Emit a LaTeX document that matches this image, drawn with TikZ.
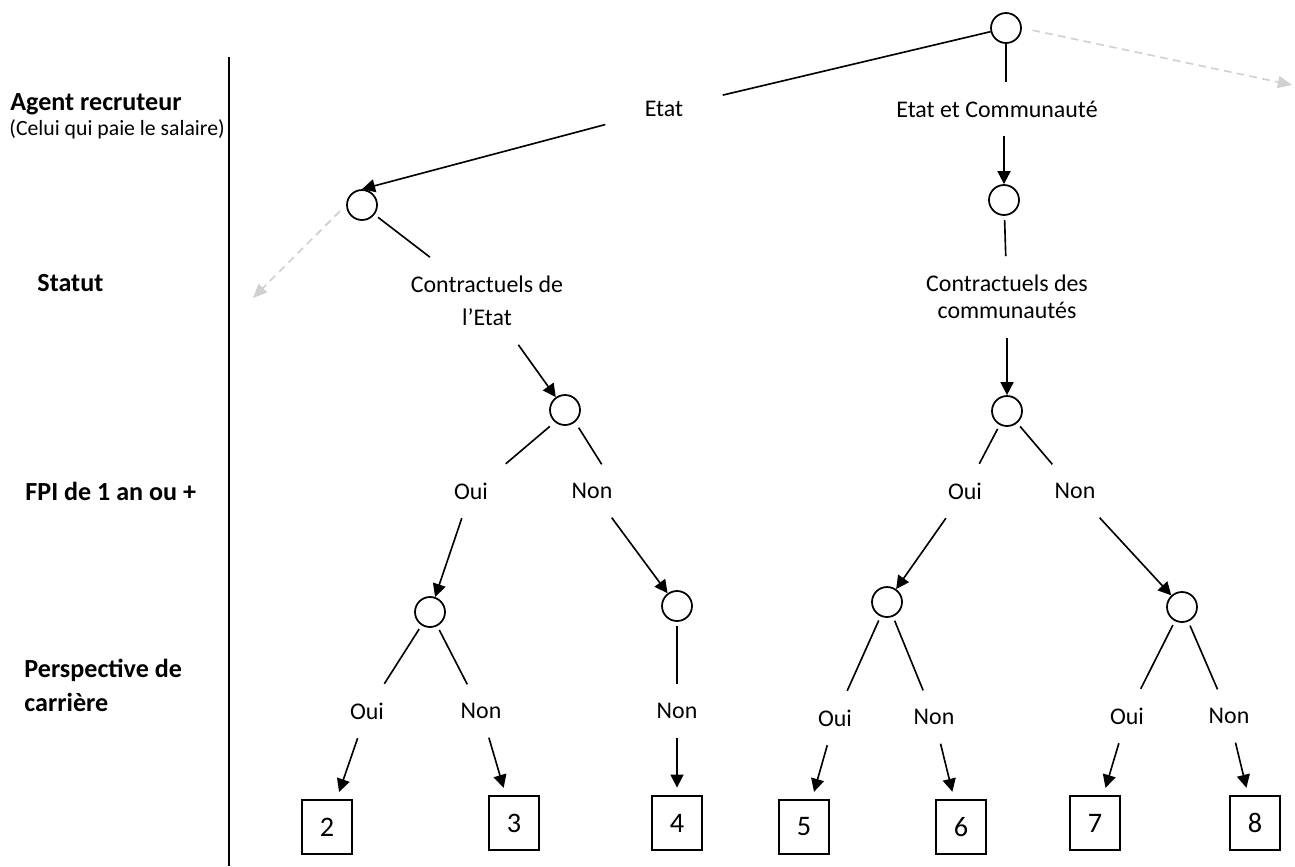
\documentclass[tikz,border=0pt]{standalone}
\usepackage{fontspec}
\setmainfont{Carlito}
\usetikzlibrary{arrows.meta,positioning}
\definecolor{droppedgray}{RGB}{208,208,208}

\begin{document}
\begin{tikzpicture}[x=0.46pt,y=-0.46pt,
	>={Triangle[length=6pt,width=6pt]},
	every node/.style={font=\fontsize{11}{15.2}\selectfont},
	chance/.style={draw,circle,line width=0.8pt,minimum size=13.8pt,inner sep=0pt},
	branchlbl/.style={inner xsep=8pt,inner ysep=8.5pt,align=center},
	outcome/.style={draw,line width=0.8pt,minimum width=23pt,minimum height=24.8pt,inner sep=0pt,font=\fontsize{13}{15}\selectfont},
	rowlbl/.style={anchor=west,align=left,inner sep=0pt,font=\fontsize{12}{15.6}\selectfont\bfseries},
	wire/.style={line width=0.75pt},
	dropped/.style={line width=0.75pt,draw=droppedgray,dash pattern=on 3.5pt off 2.5pt,-{Triangle[length=6.5pt,width=5.5pt,fill=droppedgray]}}]
	\useasboundingbox (0,0) rectangle (1295,866);
	\node[rowlbl] (agent) at (10,104) {Agent recruteur};
	\node[anchor=west,inner sep=0pt,font=\fontsize{10}{12}\selectfont] (payeur) at (9,129) {(Celui qui paie le salaire)};
	\node[rowlbl] (statut) at (37,283) {Statut};
	\node[rowlbl] (fpi) at (25,491) {FPI de 1 an ou +};
	\node[rowlbl] (persp) at (24,685) {Perspective de\\carrière};
	\draw[line width=1.2pt] (229,57) -- (229,866);
	\node[chance] (top) at (1006,28) {};
	\node[branchlbl,inner xsep=18pt] (etat) at (664,109) {Etat};
	\node[branchlbl] (etatcom) at (997,109) {Etat et Communauté};
	\node[chance] (etatc) at (362,205) {};
	\node[chance] (comc) at (1004,200) {};
	\node[branchlbl] (contretat) at (487,301) {Contractuels de\\l’Etat};
	\node[branchlbl] (contrcom) at (1007,297) {Contractuels des\\[-2.8pt]communautés};
	\node[chance] (fpietat) at (565,410) {};
	\node[chance] (fpicom) at (1007,411) {};
	\node[branchlbl] (ouiA) at (471,491) {Oui};
	\node[branchlbl] (nonA) at (592,491) {Non};
	\node[branchlbl] (ouiB) at (965,491) {Oui};
	\node[branchlbl] (nonB) at (1075,491) {Non};
	\node[chance] (pA) at (430,612) {};
	\node[chance] (pB) at (677,606) {};
	\node[chance] (pC) at (887,602) {};
	\node[chance] (pD) at (1182,607) {};
	\node[branchlbl] (ouiA1) at (367,711) {Oui};
	\node[branchlbl] (nonA1) at (481,711) {Non};
	\node[branchlbl] (nonB1) at (677,711) {Non};
	\node[branchlbl] (ouiC1) at (835,718) {Oui};
	\node[branchlbl] (nonC1) at (934,717) {Non};
	\node[branchlbl] (ouiD1) at (1127,716) {Oui};
	\node[branchlbl] (nonD1) at (1229,716) {Non};
	\foreach \num/\x/\y in {2/327/827,3/514/823,4/677/823,5/804/827,6/961/827,7/1095/823,8/1255/823} {
		\node[outcome] (r\num) at (\x,\y) {\num};
	}
	\coordinate (droppedR) at (1292,85);
	\coordinate (droppedL) at (253,298);
	\draw[dropped,shorten <=5pt] (top.east) -- (droppedR);
	\draw[dropped,shorten <=4pt] (etatc.west) -- (droppedL);
	\draw[wire] (top) -- (etat);
	\draw[wire,->] (etat) -- (etatc.north);
	\draw[wire] (top) -- (top |- etatcom.north);
	\draw[wire,->] (etatcom.south -| comc) -- (comc);
	\draw[wire,shorten <=2pt] (etatc) -- (contretat);
	\draw[wire,->] (contretat) -- (fpietat);
	\draw[wire,shorten <=2pt] (comc) -- (contrcom);
	\draw[wire,->] (contrcom) -- (fpicom);
	\draw[wire,shorten <=3pt] (fpietat.230) -- (ouiA.north east);
	\draw[wire,shorten <=3pt] (fpietat.-50) -- (nonA.70);
	\draw[wire,->] (ouiA) -- (pA);
	\draw[wire,->] (nonA) -- (pB);
	\foreach \lbl/\to in {ouiB/pC,nonB/pD} {
		\draw[wire,shorten <=2pt] (fpicom) -- (\lbl);
		\draw[wire,->] (\lbl) -- (\to);
	}
	\foreach \from/\lbl/\to in {pA/ouiA1/r2,pA/nonA1/r3,pB/nonB1/r4,pC/ouiC1/r5,pC/nonC1/r6,pD/ouiD1/r7,pD/nonD1/r8} {
		\draw[wire,shorten <=2pt] (\from) -- (\lbl);
		\draw[wire,->,shorten >=3.5pt] (\lbl) -- (\to);
	}
\end{tikzpicture}
\end{document}
